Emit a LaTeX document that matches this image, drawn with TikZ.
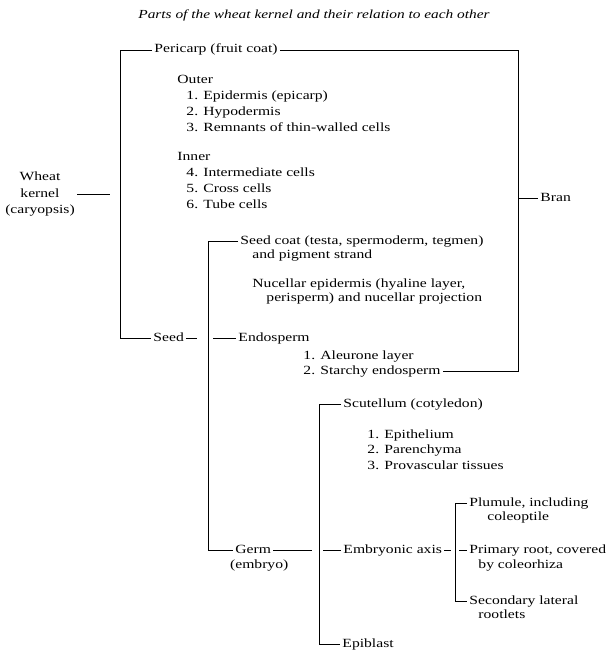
\documentclass[tikz,border=0pt]{standalone}
\usepackage{fontspec}
\setmainfont{Liberation Serif}[FakeStretch=1.25]
\usetikzlibrary{positioning}

\begin{document}
\begin{tikzpicture}[x=1pt, y=-1pt, line width=0.9pt,
    part/.style={anchor=base west, inner xsep=2pt, inner ysep=0pt, text height=9pt, text depth=3pt, font=\fontsize{12.5}{15}\selectfont},
    mid/.style={part, anchor=base},
    heading/.style={anchor=base, inner sep=0pt, font=\fontsize{12.3}{14}\selectfont\itshape}
]
\useasboundingbox (0,0) rectangle (611,652);

% Heading
\node[heading] (Heading) at (314,19) {Parts of the wheat kernel and their relation to each other};

% Wheat kernel
\node[mid] (Kernel) at (40,197) {kernel};
\node[mid, above=4pt of Kernel] (Wheat) {Wheat};
\node[mid, below=4pt of Kernel] (Caryopsis) {(caryopsis)};

% Pericarp and bran
\node[part] (Pericarp) at (152,53) {Pericarp (fruit coat)};
\node[part] (Outer) at (175,84) {Outer};
\node[part, below right=3pt and 9pt of Outer.south west] (Epidermis) {1. Epidermis (epicarp)};
\node[part, below right=3pt and 0pt of Epidermis.south west] (Hypodermis) {2. Hypodermis};
\node[part, below right=3pt and 0pt of Hypodermis.south west] (Remnants) {3. Remnants of thin-walled cells};
\node[part] (Inner) at (175,161) {Inner};
\node[part, below right=3pt and 9pt of Inner.south west] (Intermediate) {4. Intermediate cells};
\node[part, below right=3pt and 0pt of Intermediate.south west] (Cross) {5. Cross cells};
\node[part, below right=3pt and 0pt of Cross.south west] (Tube) {6. Tube cells};
\node[part] (Bran) at (538,201) {Bran};

% Seed
\node[part] (Seed) at (151,341) {Seed};
\node[part] (SeedCoat) at (238,244) {Seed coat (testa, spermoderm, tegmen)};
\node[part, below right=2pt and 12pt of SeedCoat.south west] (Pigment) {and pigment strand};
\node[part] (Nucellar) at (250,287) {Nucellar epidermis (hyaline layer,};
\node[part, below right=2pt and 14pt of Nucellar.south west] (Perisperm) {perisperm) and nucellar projection};
\node[part] (Endosperm) at (236,341) {Endosperm};
\node[part] (Aleurone) at (301,359) {1. Aleurone layer};
\node[part, below right=3pt and 0pt of Aleurone.south west] (Starchy) {2. Starchy endosperm};

% Germ
\node[part] (Germ) at (233,553) {Germ};
\node[mid, below=3pt of Germ, xshift=6pt] (Embryo) {(embryo)};
\node[part] (Scutellum) at (341,407) {Scutellum (cotyledon)};
\node[part] (Epithelium) at (365,438) {1. Epithelium};
\node[part, below right=3pt and 0pt of Epithelium.south west] (Parenchyma) {2. Parenchyma};
\node[part, below right=3pt and 0pt of Parenchyma.south west] (Provascular) {3. Provascular tissues};
\node[part] (Axis) at (341,553) {Embryonic axis};
\node[part] (Epiblast) at (340,647) {Epiblast};

% Embryonic axis
\node[part] (Plumule) at (467,506) {Plumule, including};
\node[part, below right=2pt and 18pt of Plumule.south west] (Coleoptile) {coleoptile};
\node[part] (Root) at (467,553) {Primary root, covered};
\node[part, below right=3pt and 9pt of Root.south west] (Coleorhiza) {by coleorhiza};
\node[part] (Lateral) at (467,604) {Secondary lateral};
\node[part, below right=2pt and 9pt of Lateral.south west] (Rootlets) {rootlets};

% Bracket positions
\coordinate (KernelEnd) at (110,0);
\coordinate (TrunkX) at (120,0);
\coordinate (SeedEnd) at (197,0);
\coordinate (SeedX) at (208,0);
\coordinate (EndoStart) at (213,0);
\coordinate (GermEnd) at (312,0);
\coordinate (GermX) at (319,0);
\coordinate (AxisStart) at (323,0);
\coordinate (AxisEnd) at (451,0);
\coordinate (AxisX) at (455,0);
\coordinate (RootStart) at (459,0);
\coordinate (BranX) at (518,0);

% Connections
\draw (Caryopsis.east |- Kernel.east) -- (KernelEnd |- Kernel.east);
\draw (Pericarp.west) -- (TrunkX |- Pericarp.west) -- (TrunkX |- Seed.west) -- (Seed.west);
\draw (Pericarp.east) -- (BranX |- Pericarp.east) -- (BranX |- Starchy.east) -- (Starchy.east);
\draw (BranX |- Bran.west) -- (Bran.west);
\draw (Seed.east) -- (SeedEnd |- Seed.east);
\draw (SeedCoat.west) -- (SeedX |- SeedCoat.west) -- (SeedX |- Germ.west) -- (Germ.west);
\draw (EndoStart |- Endosperm.west) -- (Endosperm.west);
\draw (Germ.east) -- (GermEnd |- Germ.east);
\draw (Scutellum.west) -- (GermX |- Scutellum.west) -- (GermX |- Epiblast.west) -- (Epiblast.west);
\draw (AxisStart |- Axis.west) -- (Axis.west);
\draw (Axis.east) -- (AxisEnd |- Axis.east);
\draw (Plumule.west) -- (AxisX |- Plumule.west) -- (AxisX |- Lateral.west) -- (Lateral.west);
\draw (RootStart |- Root.west) -- (Root.west);

\end{tikzpicture}
\end{document}
